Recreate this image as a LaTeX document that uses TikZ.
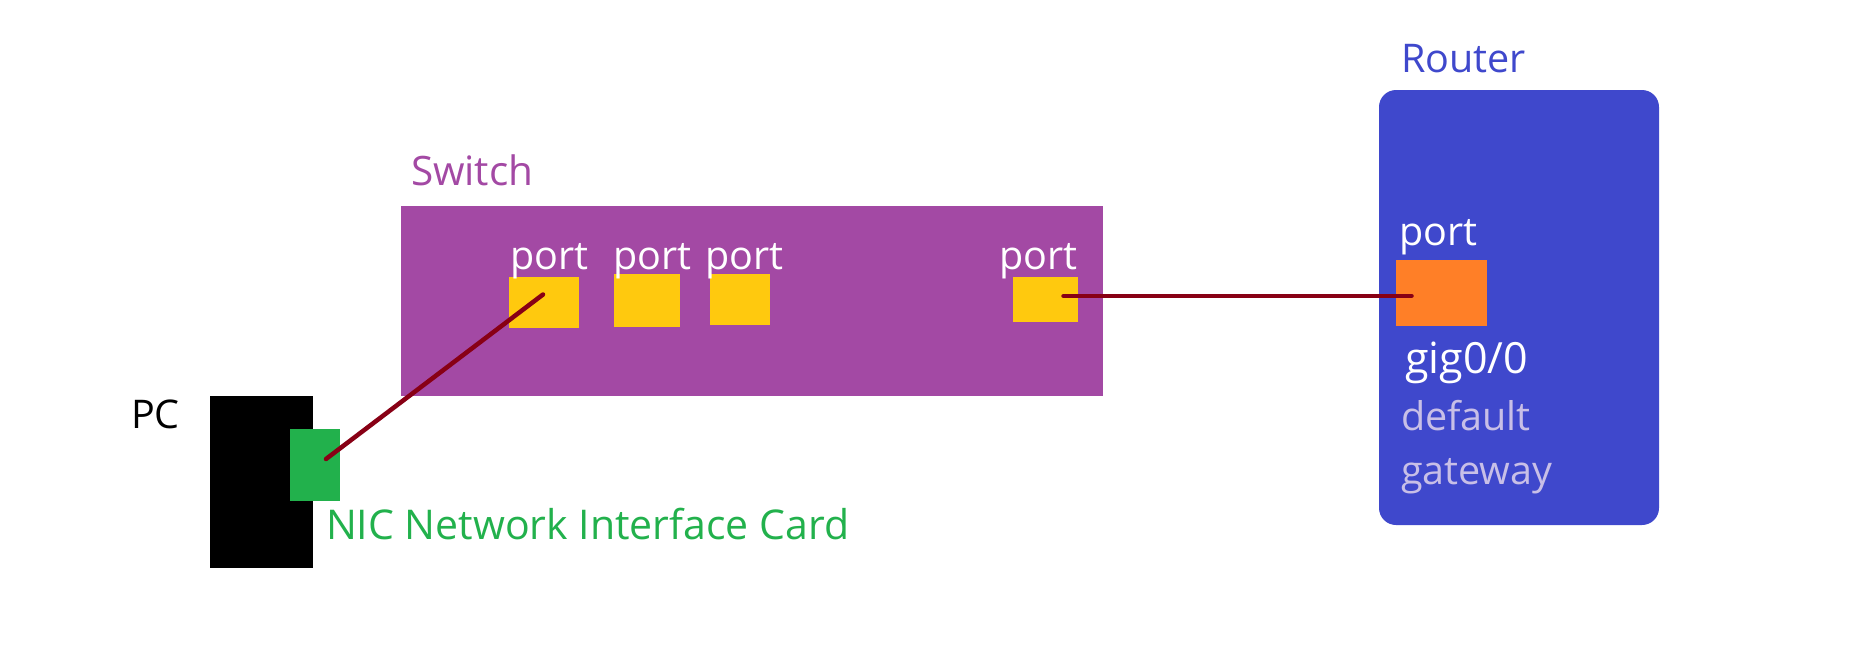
\documentclass[tikz,border=0pt]{standalone}
\usepackage{fontspec}
\setmainfont{Open Sans}
\usetikzlibrary{calc}
\definecolor{swpurple}{HTML}{A349A4}
\definecolor{rtblue}{HTML}{3F48CC}
\definecolor{portyellow}{HTML}{FFC90E}
\definecolor{portorange}{HTML}{FF7F27}
\definecolor{nicgreen}{HTML}{22B14C}
\definecolor{cablered}{HTML}{880015}
\definecolor{lavender}{HTML}{C8BFE7}
\tikzset{
  blockbox/.style={draw=none, inner sep=0pt, outer sep=0pt, anchor=north west},
  lbl/.style={inner sep=0pt, outer sep=0pt, anchor=base west, font=\fontsize{39.5}{41}\selectfont},
  cable/.style={draw=cablered, line width=4.5pt, line cap=round}
}
\begin{document}
\begin{tikzpicture}[x=1pt,y=-1pt]
\useasboundingbox (0,0) rectangle (1849,653);
% switch
\node[blockbox, fill=swpurple, minimum width=702pt, minimum height=190pt] (switch) at (401,206) {};
\node[lbl, text=swpurple, font=\fontsize{40.5}{42}\selectfont] (switchlbl) at (411,185) {Switch};
\node[blockbox, fill=portyellow, minimum width=70pt, minimum height=51pt] (sp1) at (509,277) {};
\node[blockbox, fill=portyellow, minimum width=66pt, minimum height=53pt] (sp2) at (614,274) {};
\node[blockbox, fill=portyellow, minimum width=60pt, minimum height=51pt] (sp3) at (710,274) {};
\node[blockbox, fill=portyellow, minimum width=65pt, minimum height=45pt] (sp4) at (1013,277) {};
\node[lbl, text=white] (sp1lbl) at (510,269) {port};
\node[lbl, text=white] (sp2lbl) at (613,269) {port};
\node[lbl, text=white] (sp3lbl) at (705,269) {port};
\node[lbl, text=white] (sp4lbl) at (999,269) {port};
% PC
\node[blockbox, fill=black, minimum width=103pt, minimum height=172pt] (pc) at (210,396) {};
\node[blockbox, fill=nicgreen, minimum width=50pt, minimum height=72pt] (nic) at (290,429) {};
\node[lbl, text=black] (pclbl) at (131,428) {PC};
\node[lbl, text=nicgreen, font=\fontsize{41}{43}\selectfont] (niclbl) at (326,539) {NIC Network Interface Card};
% router
\node[blockbox, fill=rtblue, rounded corners=17pt, minimum width=280pt, minimum height=435pt] (router) at (1379,90) {};
\node[lbl, text=rtblue] (routerlbl) at (1401,72) {Router};
\node[blockbox, fill=portorange, minimum width=91pt, minimum height=66pt] (rp) at (1396,260) {};
\node[lbl, text=white] (rplbl) at (1399,245) {port};
\node[lbl, text=white, font=\fontsize{43}{45}\selectfont] (giglbl) at (1405,373) {gig0/0};
\node[lbl, text=lavender] (deflbl) at (1401,430) {default};
\node[lbl, text=lavender] (gwlbl) at (1401,484) {gateway};
% cables
\draw[cable] ($(sp1.center)+(-1,-8)$) -- ($(nic.center)+(11,-6)$);
\draw[cable] ($(sp4.center)+(18,-3.5)$) -- ($(rp.center)+(-30,3)$);
\end{tikzpicture}
\end{document}
